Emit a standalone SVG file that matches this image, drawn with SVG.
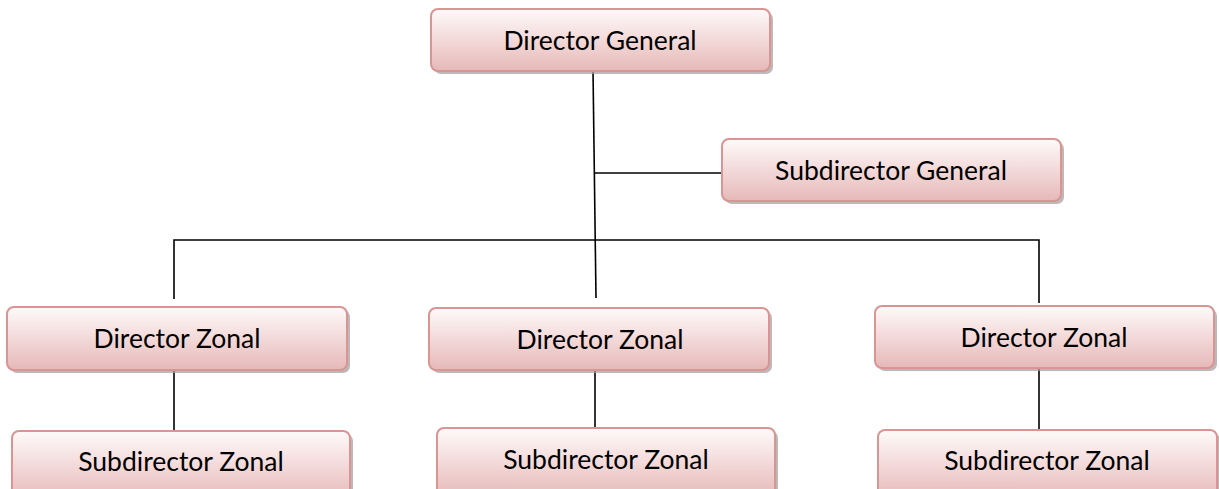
<svg xmlns="http://www.w3.org/2000/svg" width="1219" height="489" viewBox="0 0 1219 489">
<defs>
<linearGradient id="g" x1="0" y1="0" x2="0" y2="1">
<stop offset="0" stop-color="#fefafa"/>
<stop offset="0.5" stop-color="#f3d9d9"/>
<stop offset="1" stop-color="#e5b9b8"/>
</linearGradient>
</defs>
<style>
.sh{fill:#a8a0a0;opacity:0.75}
.bx{fill:url(#g);stroke:#d99594;stroke-width:2}
.t{font-family:Lato,"Open Sans","Liberation Sans",sans-serif;font-size:26.5px;fill:#000;text-anchor:middle}
.c{stroke:#000;stroke-width:1.6;fill:none}
</style>
<rect width="1219" height="489" fill="#fff"/>
<g id="connectors">
<path class="c" d="M593 70 L596 298"/>
<path class="c" d="M594 173 H722"/>
<path class="c" d="M174 299 V240 H1039 V303"/>
<path class="c" d="M174 370 V430"/>
<path class="c" d="M595 370 V430"/>
<path class="c" d="M1039 368 V429"/>
</g>
<g id="director-general">
<rect class="sh" x="434" y="12" width="339" height="62" rx="7"/>
<rect class="bx" x="431" y="9" width="339" height="62" rx="7"/>
<text class="t" x="600" y="50">Director General</text>
</g>
<g id="subdirector-general">
<rect class="sh" x="725" y="142" width="339" height="62" rx="7"/>
<rect class="bx" x="722" y="139" width="339" height="62" rx="7"/>
<text class="t" x="891" y="180">Subdirector General</text>
</g>
<g id="director-zonal-1">
<rect class="sh" x="10" y="310" width="340" height="63" rx="7"/>
<rect class="bx" x="7" y="307" width="340" height="63" rx="7"/>
<text class="t" x="177" y="348">Director Zonal</text>
</g>
<g id="director-zonal-2">
<rect class="sh" x="432" y="311" width="340" height="62" rx="7"/>
<rect class="bx" x="429" y="308" width="340" height="62" rx="7"/>
<text class="t" x="600" y="349">Director Zonal</text>
</g>
<g id="director-zonal-3">
<rect class="sh" x="878" y="309" width="339" height="62" rx="7"/>
<rect class="bx" x="875" y="306" width="339" height="62" rx="7"/>
<text class="t" x="1044" y="347">Director Zonal</text>
</g>
<g id="subdirector-zonal-1">
<rect class="sh" x="15" y="434" width="338" height="70" rx="7"/>
<rect class="bx" x="12" y="431" width="338" height="70" rx="7"/>
<text class="t" x="181" y="471">Subdirector Zonal</text>
</g>
<g id="subdirector-zonal-2">
<rect class="sh" x="440" y="431" width="338" height="70" rx="7"/>
<rect class="bx" x="437" y="428" width="338" height="70" rx="7"/>
<text class="t" x="606" y="469">Subdirector Zonal</text>
</g>
<g id="subdirector-zonal-3">
<rect class="sh" x="881" y="433" width="339" height="70" rx="7"/>
<rect class="bx" x="878" y="430" width="339" height="70" rx="7"/>
<text class="t" x="1047" y="470">Subdirector Zonal</text>
</g>
</svg>
